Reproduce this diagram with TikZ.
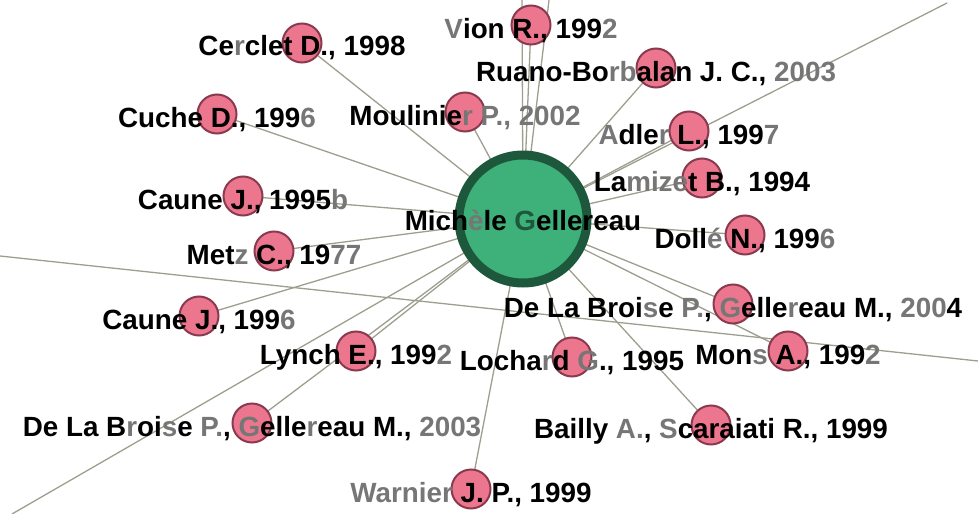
\documentclass[tikz,border=0pt]{standalone}
\usepackage{fontspec}
\setmainfont{Liberation Sans}
\usetikzlibrary{backgrounds}
\definecolor{edgec}{RGB}{158,158,142}
\definecolor{pinkc}{RGB}{236,118,142}
\definecolor{pinkb}{RGB}{138,58,78}
\definecolor{greenc}{RGB}{62,176,122}
\definecolor{greenb}{RGB}{30,88,60}
\definecolor{lgrey}{RGB}{118,118,118}
\newcommand{\gry}[1]{\textcolor{lgrey}{#1}}
\begin{document}
\begin{tikzpicture}[x=1pt,y=-1pt,
  edge/.style={draw=edgec, line width=1.3pt},
  pnode/.style={circle, fill=pinkc, draw=pinkb, line width=2pt, minimum size=39pt, inner sep=0pt},
  gnode/.style={circle, fill=greenc, draw=greenb, line width=9pt, minimum size=128pt, inner sep=0pt},
  lab/.style={anchor=base, font=\fontsize{27.8}{30}\selectfont\bfseries, text=black, inner sep=0pt, yshift=-13pt}
]
\useasboundingbox (0,0) rectangle (978,514);
% hub
\node[gnode] (c) at (523,219) {};
% leaves
\node[pnode] (vion) at (531,25) {};
\node[pnode] (cerc) at (302,43) {};
\node[pnode] (ruano) at (656,68) {};
\node[pnode] (cuche) at (217,114) {};
\node[pnode] (moul) at (465,112) {};
\node[pnode] (adler) at (689,131) {};
\node[pnode] (lam) at (702,178) {};
\node[pnode] (cau95) at (243,196) {};
\node[pnode] (dolle) at (745,235) {};
\node[pnode] (metz) at (274,251) {};
\node[pnode] (dlb04) at (733,304) {};
\node[pnode] (cau96) at (199,316) {};
\node[pnode] (mons) at (788,351) {};
\node[pnode] (lynch) at (356,351) {};
\node[pnode] (loch) at (572,357) {};
\node[pnode] (dlb03) at (252,423) {};
\node[pnode] (bailly) at (711,425) {};
\node[pnode] (warn) at (471,489) {};
% free ends of the long lines
\coordinate (ll) at (0,256);
\coordinate (lr) at (978,361);
\coordinate (tr) at (947,3);
\coordinate (bl) at (12,514);
\coordinate (t1) at (522,0);
\coordinate (t2) at (549,0);
\begin{scope}[on background layer]
  \foreach \n in {vion,cerc,ruano,cuche,moul,adler,lam,cau95,dolle,metz,dlb04,cau96,mons,lynch,loch,dlb03,bailly,warn}
    \draw[edge] (c.center) -- (\n.center);
  \draw[edge] (ll) -- (lr);
  \draw[edge] (c.center) -- (tr);
  \draw[edge] (c.center) -- (bl);
  \draw[edge] (c.center) -- (t1);
  \draw[edge] (c.center) -- (t2);
\end{scope}
% labels
\node[lab, yshift=2pt] at (c) {Mich\gry{è}le \textcolor{greenb}{G}ellereau};
\node[lab] at (vion) {\gry{V}ion R., 199\gry{2}};
\node[lab] at (cerc) {Ce\gry{r}clet D., 1998};
\node[lab] at (ruano) {Ruano-Bo\gry{rb}alan J. C., \gry{2003}};
\node[lab] at (cuche) {Cuche D., 199\gry{6}};
\node[lab] at (moul) {Moulinie\gry{r P., 2002}};
\node[lab] at (adler) {\gry{A}dle\gry{r} L., 199\gry{7}};
\node[lab] at (lam) {La\gry{mize}t B., 1994};
\node[lab] at (cau95) {Caune J., 1995\gry{b}};
\node[lab] at (dolle) {Doll\gry{é} N., 199\gry{6}};
\node[lab] at (metz) {Met\gry{z} C., 19\gry{77}};
\node[lab] at (dlb04) {De La Broi\gry{s}e \gry{P.}, \gry{G}elle\gry{r}eau M., \gry{200}4};
\node[lab] at (cau96) {Caune J., 199\gry{6}};
\node[lab] at (mons) {Mon\gry{s} A., 199\gry{2}};
\node[lab] at (lynch) {Lynch E., 199\gry{2}};
\node[lab] at (loch) {Locha\gry{r}d \gry{G}., 1995};
\node[lab] at (dlb03) {De La B\gry{r}oi\gry{s}e \gry{P.}, \gry{G}elle\gry{r}eau M., \gry{2003}};
\node[lab] at (bailly) {Bailly \gry{A.}, \gry{S}caraiati R., 1999};
\node[lab] at (warn) {\gry{Warnier} J. P., 1999};
\end{tikzpicture}
\end{document}
